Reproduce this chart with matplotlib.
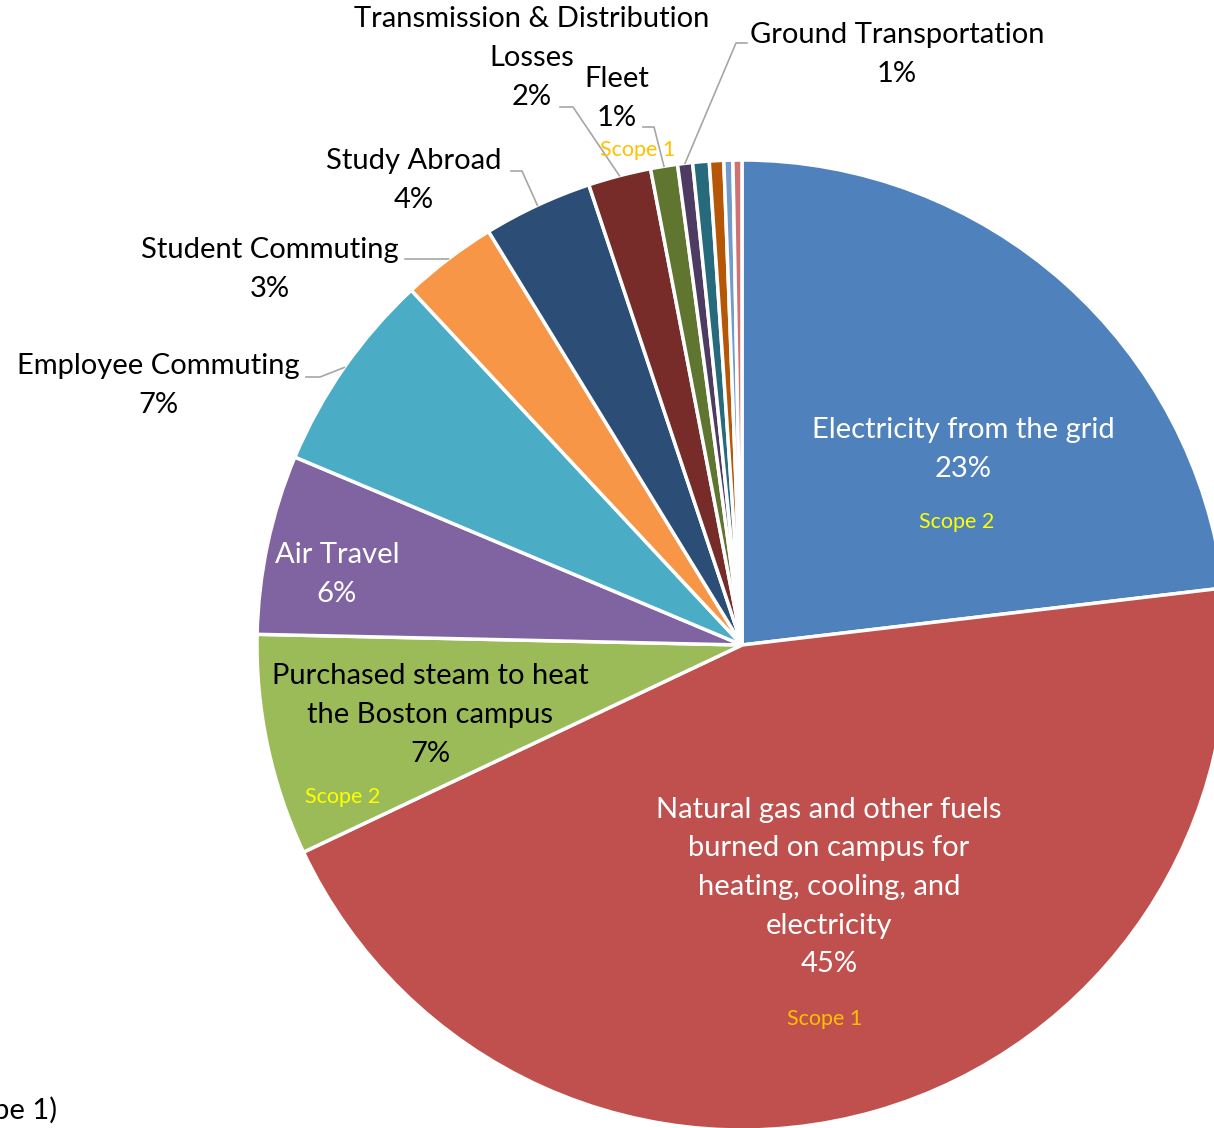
import numpy as np
import matplotlib.pyplot as plt

plt.rcParams['font.family'] = ['Lato', 'DejaVu Sans']

categories = ['Electricity from the grid',
              'Natural gas and other fuels\nburned on campus for\nheating, cooling, and\nelectricity',
              'Purchased steam to heat\nthe Boston campus',
              'Air Travel',
              'Employee Commuting',
              'Student Commuting',
              'Study Abroad',
              'Transmission & Distribution\nLosses',
              'Fleet',
              'Ground Transportation',
              'Other 1', 'Other 2', 'Other 3', 'Other 4']
shares = [23.2, 45.0, 7.4, 6.0, 6.75, 3.2, 3.65, 2.1, 0.9, 0.5, 0.55, 0.48, 0.3, 0.3]
pct_labels = ['23%', '45%', '7%', '6%', '7%', '3%', '4%', '2%', '1%', '1%']
colors = ['#4F81BD', '#C0504D', '#9BBB59', '#8064A2', '#4BACC6', '#F79646',
          '#2C4D75', '#772C2A', '#5F7530', '#4D3B62', '#276A7C', '#B65708',
          '#729ACA', '#CD7371']

W, H = 1214, 1128
fig = plt.figure(figsize=(W / 100, H / 100), dpi=100)
ax = fig.add_axes([0, 0, 1, 1])

wedges, _ = ax.pie(shares, colors=colors, startangle=90, counterclock=False,
                   radius=485, center=(742, H - 645),
                   wedgeprops=dict(edgecolor='white', linewidth=2.5))
ax.set_xlim(0, W)
ax.set_ylim(0, H)
ax.set_aspect('equal')
ax.axis('off')


def Y(y):
    return H - y


# label centre x, y (image px), colour
label_pos = [(963, 449.5, 'white'), (829, 887, 'white'), (430, 715, 'black'),
             (337, 574.5, 'white'), (158, 385.5, 'black'), (270, 269.5, 'black'),
             (414, 180.5, 'black'), (532, 58, 'black'), (617, 98.5, 'black'),
             (897, 54.5, 'black')]
fs = 21
for i, (x, y, c) in enumerate(label_pos):
    ax.text(x, Y(y), categories[i] + '\n' + pct_labels[i], ha='center', va='center',
            color=c, fontsize=fs, linespacing=1.6)

# leader lines: label side points, slice side computed from wedge
leaders = {4: [(306, 377), (320, 377)],
           5: [(405, 259), (447, 259)],
           6: [(511, 171), (522, 171)],
           7: [(560, 107), (573, 107)],
           8: [(643, 127), (654, 127)],
           9: [(747, 43), (736, 43)]}
for i, pts in leaders.items():
    w = wedges[i]
    mid = np.deg2rad((w.theta1 + w.theta2) / 2)
    ex = w.center[0] + w.r * np.cos(mid)
    ey = w.center[1] + w.r * np.sin(mid)
    xs = [p[0] for p in pts] + [ex]
    ys = [Y(p[1]) for p in pts] + [ey]
    ax.plot(xs, ys, color='#A6A6A6', lw=1.2)

# scope tags
scope_tags = [('Scope 2', 957, 522, '#FFFF00'), ('Scope 2', 343, 797, '#FFFF00'),
              ('Scope 1', 825, 1019, '#FFC000'), ('Scope 1', 638, 150, '#FFC000')]
for t, x, y, c in scope_tags:
    ax.text(x, Y(y), t, ha='center', va='center', color=c, fontsize=15.5)

ax.text(57, Y(1110), '(Scope 1)', ha='right', va='center', color='black', fontsize=fs)

fig.savefig('out.png', dpi=100)
